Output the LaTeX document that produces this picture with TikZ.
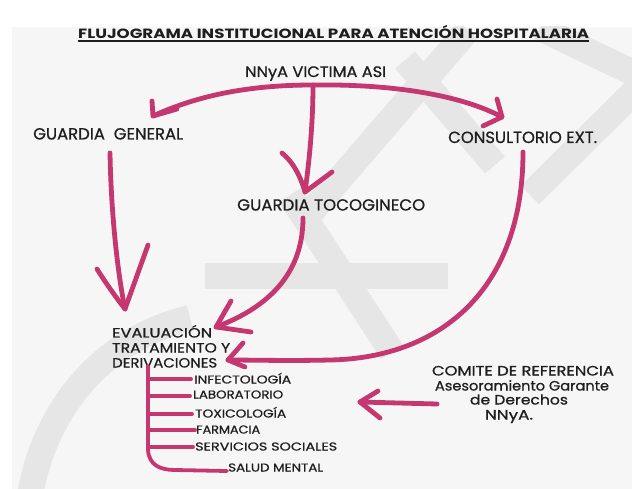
\documentclass[tikz,border=0pt]{standalone}
\usepackage{fontspec}
\setmainfont{Poppins}
\newfontfamily\lab[FakeBold=0.7]{Poppins}
\usepackage{graphicx}
\definecolor{pk}{HTML}{C4376F}
\definecolor{ink}{HTML}{1E1E1E}
\definecolor{wm}{HTML}{E6E6E6}
\definecolor{paper}{HTML}{F6F6F6}
\newcommand\fitw[2]{\resizebox{#1pt}{\height}{#2}}
\begin{document}
\begin{tikzpicture}[x=1pt,y=-1pt,
  lbl/.style={inner sep=0pt, text=ink, anchor=base west},
  clbl/.style={inner sep=0pt, text=ink, anchor=base},
  pkline/.style={draw=pk, line width=4.8pt, line cap=round, line join=round},
  pkthin/.style={draw=pk, line width=3.8pt, line cap=round, line join=round},
  wmark/.style={draw=wm, line width=26pt}]
\useasboundingbox (0,0) rectangle (632,489);
\fill[white] (0,0) rectangle (632,489);
\fill[paper] (12,27) rectangle (632,489);
% watermark
\begin{scope}
\clip (12,27) rectangle (632,489);
\draw[wmark] (468,30) -- (300,225);
\draw[wmark] (405,60) -- (495,165);
\draw[wmark] (540,28) -- (640,76);
\draw[wmark] (640,86) -- (530,195);
\draw[wmark] (290,195) -- (392,352);
\draw[wmark] (205,276) -- (448,276);
\draw[wmark] (30,495) .. controls (45,410) and (100,340) .. (190,318);
\end{scope}
% labels
\node[lbl, font=\bfseries\fontsize{13.4}{13}\selectfont] (title) at (78,39)
  {\fitw{511}{FLUJOGRAMA INSTITUCIONAL PARA ATENCIÓN HOSPITALARIA}};
\draw[ink, line width=1.2pt] ([yshift=-2pt]title.base west) -- ([yshift=-2pt]title.base east);
\node[lbl, font=\lab\fontsize{15.2}{15}\selectfont] (nnya) at (245,77) {\fitw{141}{NNyA VICTIMA ASI}};
\node[lbl, font=\lab\fontsize{16.2}{16}\selectfont] (gg) at (33,139.5) {\fitw{150}{GUARDIA\ \ GENERAL}};
\node[lbl, font=\lab\fontsize{16.2}{16}\selectfont] (ce) at (448,143) {\fitw{149}{CONSULTORIO EXT.}};
\node[lbl, font=\lab\fontsize{16}{16}\selectfont] (gt) at (237,210.5) {\fitw{188}{GUARDIA TOCOGINECO}};
\node[lbl, font=\lab\fontsize{13.4}{13}\selectfont] (ev1) at (112,337.5) {\fitw{100}{EVALUACIÓN}};
\node[lbl, font=\lab\fontsize{13.4}{13}\selectfont] (ev2) at (112,352.5) {\fitw{118}{TRATAMIENTO Y}};
\node[lbl, font=\lab\fontsize{13.4}{13}\selectfont] (ev3) at (112,367.5) {\fitw{105}{DERIVACIONES}};
\node[lbl, font=\lab\fontsize{11.4}{11}\selectfont] (l1) at (194,383.5) {\fitw{97}{INFECTOLOGÍA}};
\node[lbl, font=\lab\fontsize{11.4}{11}\selectfont] (l2) at (193,398.5) {\fitw{90}{LABORATORIO}};
\node[lbl, font=\lab\fontsize{11.4}{11}\selectfont] (l3) at (195,417.5) {\fitw{91}{TOXICOLOGÍA}};
\node[lbl, font=\lab\fontsize{11.4}{11}\selectfont] (l4) at (196,433.5) {\fitw{64}{FARMACIA}};
\node[lbl, font=\lab\fontsize{11.4}{11}\selectfont] (l5) at (195,450.5) {\fitw{142}{SERVICIOS SOCIALES}};
\node[lbl, font=\lab\fontsize{11.4}{11}\selectfont] (l6) at (228,471.5) {\fitw{95}{SALUD MENTAL}};
\node[clbl, font=\lab\fontsize{13.6}{13}\selectfont] (cr1) at (523,375.5) {\fitw{182}{COMITE DE REFERENCIA}};
\node[clbl, font=\lab\fontsize{13.6}{13}\selectfont] (cr2) at (522,390.5) {\fitw{174}{Asesoramiento Garante}};
\node[clbl, font=\lab\fontsize{13.6}{13}\selectfont] (cr3) at (519,404.5) {\fitw{98}{de Derechos}};
\node[clbl, font=\lab\fontsize{13.6}{13}\selectfont] (cr4) at (509,419.5) {\fitw{48}{NNyA.}};
% connector points
\coordinate (top) at (313,85);
\coordinate (Ltip) at (153,116);
\coordinate (Rtip) at (502,117);
\coordinate (Ttip) at (305,192);
\coordinate (ggs) at (110,153);
\coordinate (GGtip) at (125,309);
\coordinate (gts) at (303,218);
\coordinate (E1tip) at (216,327);
\coordinate (ces) at (523,152);
\coordinate (E2tip) at (228,360);
\coordinate (crs) at (437,404);
\coordinate (Ctip) at (360,402);
\coordinate (brt) at (148,366);
\coordinate (bre) at (227,471);
% top arc
\draw[pkline] (Ltip) .. controls (205,92) and (260,85) .. (top) .. controls (380,84) and (455,92) .. (Rtip);
\draw[pkline] (152,101) -- (Ltip) -- (177,109);
\draw[pkline] (497,99) -- (Rtip) -- (483,126);
% stem to tocogineco
\draw[pkline] (top) .. controls (313,130) and (308,170) .. (Ttip);
\draw[pkline] (282,153) .. controls (293,162) and (300,175) .. (Ttip) -- (332,172);
% guardia general -> evaluacion
\draw[pkline] (ggs) .. controls (111,210) and (117,270) .. (GGtip);
\draw[pkline] (97,269) .. controls (107,285) and (118,300) .. (GGtip) -- (148,245);
% tocogineco -> evaluacion
\draw[pkline] (gts) .. controls (303,268) and (275,305) .. (E1tip);
\draw[pkline] (231,301) -- (E1tip) -- (251,332);
% consultorio -> evaluacion
\draw[pkline] (ces) .. controls (523,290) and (440,358) .. (330,360) .. controls (290,361) and (250,360) .. (E2tip);
\draw[pkline] (243,343) -- (E2tip) -- (245,367);
% comite -> evaluacion
\draw[pkline] (crs) -- (Ctip);
\draw[pkline] (378,391) -- (Ctip) -- (380,418);
% bracket
\draw[pkthin] (brt) -- (148,450) .. controls (149,465) and (160,470) .. (175,470) -- (bre);
\draw[pkthin] (148,379) -- ([xshift=-3pt]l1.west |- 0,379);
\draw[pkthin] (148,396) -- ([xshift=-3pt]l2.west |- 0,396);
\draw[pkthin] (148,414) -- ([xshift=-3pt]l3.west |- 0,414);
\draw[pkthin] (148,430) -- ([xshift=-1pt]l4.west |- 0,430);
\draw[pkthin] (148,447) -- ([xshift=-2pt]l5.west |- 0,447);
\end{tikzpicture}
\end{document}
